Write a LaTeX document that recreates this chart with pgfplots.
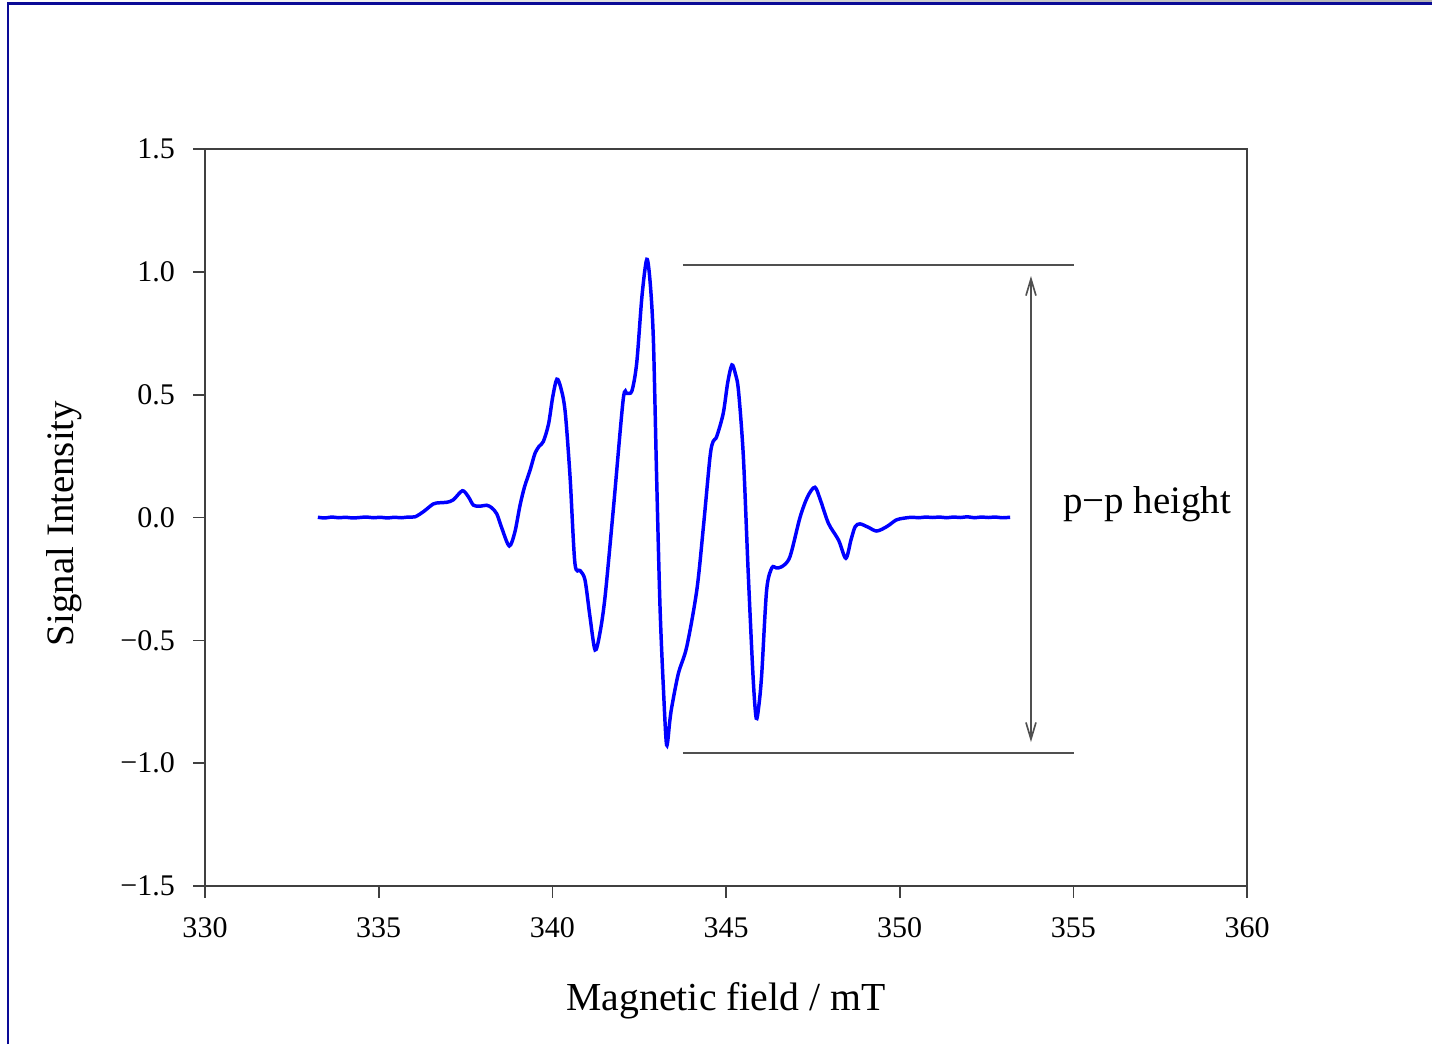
\documentclass[border=0pt]{standalone}
\usepackage{fontspec}
\setmainfont{Liberation Serif}
\usepackage{pgfplots}
\pgfplotsset{compat=1.18}
\usetikzlibrary{arrows.meta}
\definecolor{frameblue}{HTML}{0A0A96}
\definecolor{axgray}{HTML}{404040}
\definecolor{refgray}{HTML}{505050}

\begin{document}
\begin{tikzpicture}
% page: 1 px = 0.36 pt, axis box lower-left at (0,0)
\useasboundingbox (-73.8pt,-56.88pt) rectangle (441.72pt,318.96pt);
\shade[left color=white, right color=black!30] (-70.92pt,317.88pt) rectangle (441.72pt,318.96pt);
\draw[frameblue, line width=0.9pt] (-70.92pt,-56.88pt) -- (-70.92pt,317.7pt) -- (441.72pt,317.7pt);

\begin{axis}[
    scale only axis,
    width=375.12pt, height=265.32pt,
    xmin=330, xmax=360,
    ymin=-1.5, ymax=1.5,
    axis line style={axgray, line width=0.6pt},
    tick style={axgray, line width=0.6pt},
    tick align=outside,
    major tick length=4.3pt,
    xtick pos=bottom, ytick pos=left,
    xtick={330,335,...,360},
    xticklabels={330,335,340,345,350,355,360},
    ytick={-1.5,-1,-0.5,0,0.5,1,1.5},
    yticklabels={−1.5,−1.0,−0.5,0.0,0.5,1.0,1.5},
    ticklabel style={font=\fontsize{10.8}{12}\selectfont},
    xticklabel style={yshift=-3.5pt},
    yticklabel style={xshift=-3pt},
    xlabel={Magnetic field / mT},
    ylabel={Signal Intensity},
    xlabel style={font=\fontsize{14.3}{17}\selectfont, at={(axis description cs:0.5,-0.156)}, anchor=center},
    ylabel style={font=\fontsize{14}{17}\selectfont, at={(axis description cs:-0.1353,0.492)}, anchor=center},
    clip=false,
]
\addplot[blue, line width=1.25pt, smooth, tension=0.5] coordinates {
(333.25,0.001) (333.45,-0.002) (333.65,0.002) (333.85,-0.001) (334.05,0.001)
(334.25,-0.002) (334.45,0.000) (334.65,0.002) (334.85,-0.001) (335.05,0.001)
(335.25,-0.002) (335.45,0.001) (335.65,-0.001) (335.85,0.002) (336.05,0.003)
(336.30,0.025) (336.57,0.055) (336.75,0.060) (336.96,0.062) (337.15,0.072)
(337.41,0.109) (337.58,0.085) (337.73,0.050) (337.92,0.046) (338.11,0.050)
(338.25,0.040) (338.40,0.015) (338.55,-0.045) (338.76,-0.116) (338.92,-0.060)
(339.07,0.050) (339.20,0.125) (339.36,0.193) (339.50,0.261) (339.62,0.290)
(339.74,0.309) (339.89,0.380) (340.01,0.490) (340.13,0.563) (340.25,0.525)
(340.37,0.430) (340.51,0.166) (340.65,-0.186) (340.80,-0.216) (340.94,-0.254)
(341.08,-0.400) (341.23,-0.539) (341.37,-0.470) (341.52,-0.320) (341.76,0.040)
(342.04,0.480) (342.15,0.505) (342.29,0.515) (342.43,0.630) (342.58,0.900)
(342.72,1.051) (342.82,0.950) (342.91,0.720) (343.00,0.180) (343.10,-0.363)
(343.20,-0.702) (343.29,-0.926) (343.38,-0.830) (343.44,-0.770) (343.63,-0.634)
(343.87,-0.526) (344.16,-0.295) (344.35,-0.037) (344.54,0.247) (344.63,0.310)
(344.73,0.329) (344.92,0.424) (345.05,0.550) (345.17,0.621) (345.27,0.585)
(345.36,0.515) (345.50,0.247) (345.64,-0.227) (345.78,-0.650) (345.87,-0.817)
(345.95,-0.760) (346.03,-0.634) (346.17,-0.295) (346.32,-0.205) (346.45,-0.205)
(346.61,-0.200) (346.84,-0.160) (347.13,0.000) (347.35,0.085) (347.56,0.123)
(347.72,0.070) (347.95,-0.024) (348.24,-0.092) (348.45,-0.166) (348.60,-0.090)
(348.72,-0.037) (348.86,-0.026) (349.10,-0.040) (349.34,-0.055) (349.63,-0.037)
(349.90,-0.010) (350.11,-0.003) (350.35,0.001) (350.55,-0.001) (350.75,0.002)
(350.95,0.000) (351.15,0.002) (351.35,-0.001) (351.55,0.002) (351.75,0.000)
(351.95,0.003) (352.15,-0.001) (352.35,0.002) (352.55,0.000) (352.75,0.002)
(352.95,-0.001) (353.18,0.001)
};
% peak-to-peak reference lines
\addplot[refgray, line width=0.7pt] coordinates {(343.76,1.028) (355.02,1.028)};
\addplot[refgray, line width=0.7pt] coordinates {(343.76,-0.959) (355.02,-0.959)};
\addplot[refgray, line width=0.6pt, {Straight Barb[length=6pt,width=3.6pt]}-{Straight Barb[length=6pt,width=3.6pt]}]
    coordinates {(353.78,0.983) (353.78,-0.914)};
\node[font=\fontsize{14}{17}\selectfont, anchor=center] at (axis cs:357.12,0.055) {p−p height};
\end{axis}
\end{tikzpicture}
\end{document}
